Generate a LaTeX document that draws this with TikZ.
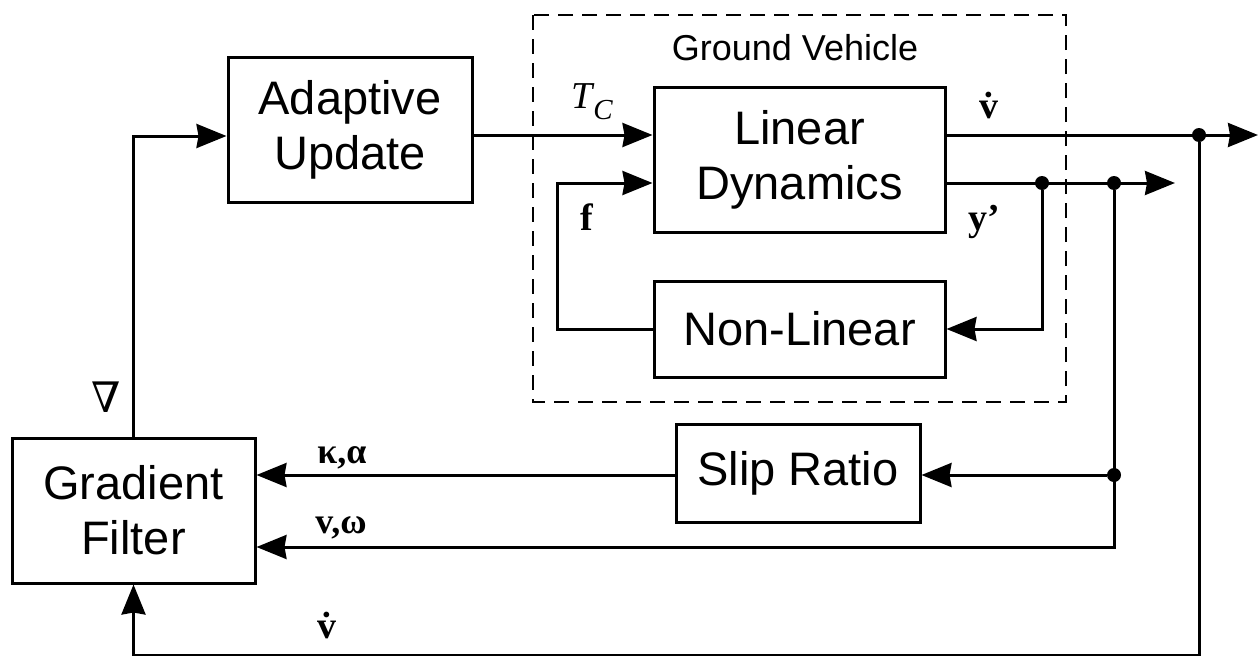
\documentclass[tikz,border=0pt]{standalone}
\usepackage{fontspec}
\setmainfont{Liberation Sans}
\newfontfamily\labfont{Liberation Serif}
\newfontfamily\symfont{DejaVu Serif}
\usetikzlibrary{arrows.meta,calc}
\begin{document}
\begin{tikzpicture}[x=1pt,y=-1pt,
  blk/.style={draw,line width=3pt,align=center,inner sep=0pt,
    font=\fontsize{47}{55}\selectfont},
  wire/.style={line width=3pt},
  arr/.style={wire,-{Stealth[length=30pt,width=24pt,inset=2pt]}},
  jdot/.style={circle,fill,inner sep=0pt,minimum size=14pt},
  lab/.style={inner sep=0pt,font=\labfont\bfseries\fontsize{38}{38}\selectfont},
  gvlab/.style={inner sep=0pt,font=\fontsize{36}{36}\selectfont}]
\useasboundingbox (0,0) rectangle (1259,656);
% dashed vehicle frame
\draw[line width=2.8pt,dash pattern=on 15pt off 9pt] (533,15) rectangle (1066,402);
\node[gvlab,anchor=base] (gv) at (795,60) {Ground Vehicle};
% blocks
\node[blk,minimum width=244pt,minimum height=145pt] (AU) at (350,129.5) {Adaptive\\Update};
\node[blk,minimum width=291pt,minimum height=145pt] (LD) at (799.5,159.5) {Linear\\Dynamics};
\node[blk,minimum width=291pt,minimum height=96pt] (NL) at (799.5,329) {Non-Linear};
\node[blk,minimum width=244pt,minimum height=98pt] (SR) at (798,473) {Slip Ratio};
\node[blk,minimum width=243pt,minimum height=145pt] (GF) at (133.5,510.5) {Gradient\\Filter};
% helper levels
\coordinate (yT) at (0,135);
\coordinate (yF) at (0,183);
\coordinate (yK) at (0,475);
\coordinate (yV) at (0,547);
\coordinate (yB) at (0,655);
\coordinate (yA) at (0,136);
\coordinate (outA) at (1258,135);
\coordinate (outB) at (1175,183);
\coordinate (fl) at (557,329);
% junctions
\node[jdot] (d1) at (1042,183) {};
\node[jdot] (d2) at (1114,183) {};
\node[jdot] (d3) at (1199,135) {};
\node[jdot] (d4) at (1114,475) {};
% connectors
\draw[arr] (AU.east |- yT) -- (LD.west |- yT);
\draw[arr] (LD.east |- yT) -- (outA);
\draw[arr] (LD.east |- yF) -- (outB);
\draw[arr] (d1) |- (NL.east);
\draw[arr] (NL.west) -- (fl) |- (LD.west |- yF);
\draw[arr] (d2) |- (GF.east |- yV);
\draw[arr] (d4) -- (SR.east |- yK);
\draw[arr] (SR.west |- yK) -- (GF.east |- yK);
\draw[arr] (d3) |- (GF.south |- yB) -- (GF.south);
\draw[arr] (GF.north) |- (AU.west |- yA);
% labels
\node[inner sep=0pt,anchor=base west,font=\labfont\itshape\fontsize{38}{38}\selectfont] (tc) at (571,108) {T\kern1pt\raisebox{-11pt}{\fontsize{29}{29}\selectfont C}};
\node[lab,anchor=base] (vd1) at (989,118) {\ooalign{v\cr\hidewidth˙\hidewidth\cr}};
\node[lab,anchor=base] (fl1) at (587,230) {f};
\node[lab,anchor=base] (yp) at (984,230) {y’};
\node[lab,anchor=base,font=\labfont\bfseries\fontsize{36}{36}\selectfont] (ka) at (342,463) {κ,α};
\node[lab,anchor=base,font=\labfont\bfseries\fontsize{36}{36}\selectfont] (vw) at (341,533) {v,ω};
\node[lab,anchor=base] (vd2) at (327,638) {\ooalign{v\cr\hidewidth˙\hidewidth\cr}};
\node[inner sep=0pt,font=\symfont\fontsize{42}{42}\selectfont] (nb) at (106,397) {∇};
\end{tikzpicture}
\end{document}
